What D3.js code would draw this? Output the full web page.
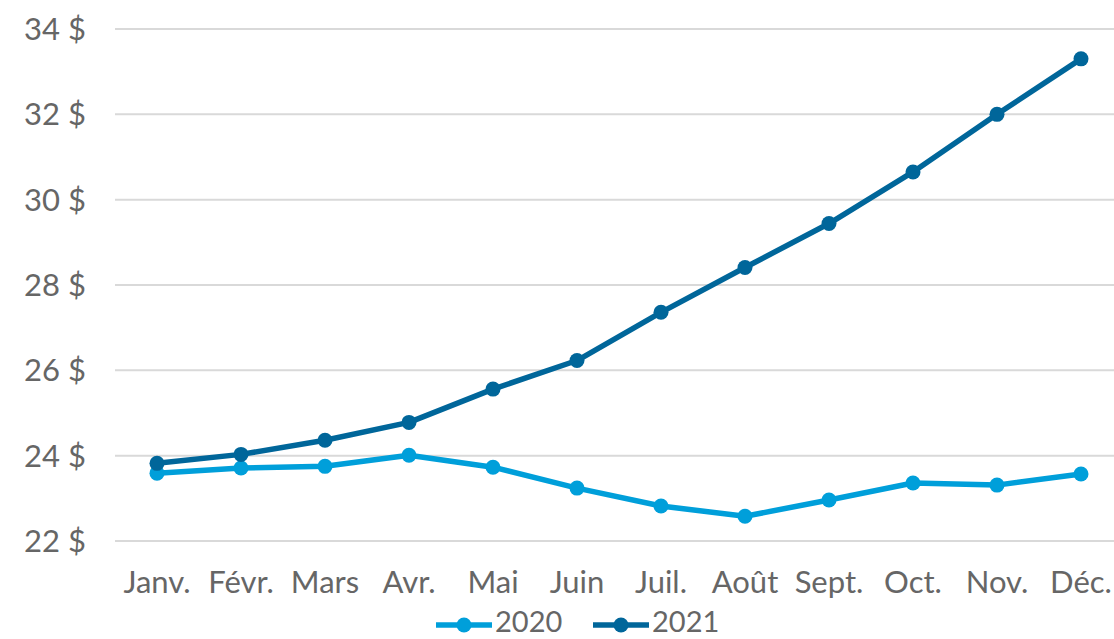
<!DOCTYPE html>
<html>
<head>
<meta charset="utf-8">
<script src="https://cdn.jsdelivr.net/npm/d3@7"></script>
<style>
  body { margin: 0; background: #fff; }
</style>
</head>
<body>
<div id="chart"></div>
<script>
const months = ["Janv.","Févr.","Mars","Avr.","Mai","Juin","Juil.","Août","Sept.","Oct.","Nov.","Déc."];
const values2020 = [23.59,23.71,23.75,24.01,23.73,23.24,22.82,22.58,22.96,23.36,23.31,23.57];
const values2021 = [23.82,24.03,24.36,24.78,25.56,26.23,27.36,28.41,29.44,30.65,32.0,33.3];
const yTicks = [22,24,26,28,30,32,34];
const seriesNames = ["2020","2021"];
const colors = ["#009fda","#00669a"];

const W = 1114, H = 639;
const svg = d3.select("#chart").append("svg").attr("width",W).attr("height",H);

var x = d3.scalePoint().domain(months).range([157,1081]);
var y = d3.scaleLinear().domain([22,34]).range([541,29]);

// grid
svg.selectAll("line.grid").data(yTicks).enter().append("line")
  .attr("class","grid")
  .attr("x1",115).attr("x2",W)
  .attr("y1",d=>y(d)).attr("y2",d=>y(d))
  .attr("stroke","#d9d9d9").attr("stroke-width",2);

// y labels
svg.selectAll("text.ylab").data(yTicks).enter().append("text")
  .attr("x",86).attr("y",d=>y(d)+11)
  .attr("text-anchor","end")
  .attr("font-family","Lato, sans-serif")
  .attr("font-size",31)
  .attr("fill","#666")
  .text(d=>d+" $");

// x labels
svg.selectAll("text.xlab").data(months).enter().append("text")
  .attr("x",d=>x(d)).attr("y",593)
  .attr("text-anchor","middle")
  .attr("font-family","Lato, sans-serif")
  .attr("font-size",31)
  .attr("fill","#666")
  .text(d=>d);

var line = d3.line().x((d,i)=>x(months[i])).y(d=>y(d));
[values2020, values2021].forEach((vals,k)=>{
  svg.append("path").datum(vals)
    .attr("d",line).attr("fill","none")
    .attr("stroke",colors[k]).attr("stroke-width",5.5)
    .attr("stroke-linejoin","round");
  svg.selectAll("circle.s"+k).data(vals).enter().append("circle")
    .attr("cx",(d,i)=>x(months[i])).attr("cy",d=>y(d))
    .attr("r",7.5).attr("fill",colors[k]);
});

// legend
var lx = [436,593];
seriesNames.forEach((n,k)=>{
  var g = svg.append("g").attr("transform","translate("+lx[k]+",625)");
  g.append("line").attr("x1",0).attr("x2",56).attr("y1",0).attr("y2",0)
    .attr("stroke",colors[k]).attr("stroke-width",5.5);
  g.append("circle").attr("cx",28).attr("cy",0).attr("r",7.5).attr("fill",colors[k]);
  g.append("text").attr("x",59).attr("y",7)
    .attr("font-family","Lato, sans-serif").attr("font-size",29)
    .attr("fill","#666").text(n);
});
</script>
</body>
</html>
